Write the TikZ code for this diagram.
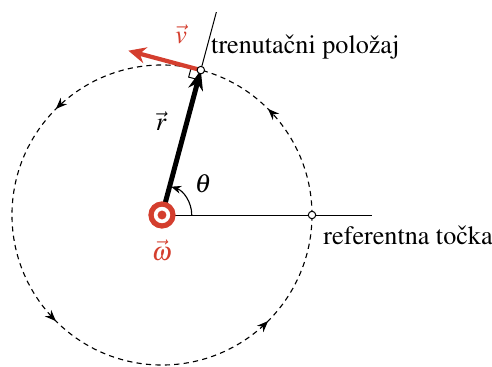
\documentclass[tikz,border=0pt]{standalone}
\usepackage{amsmath,amssymb}
\usepackage[T1]{fontenc}
\usepackage{mathptmx}
\usepackage{tikz}
\usetikzlibrary{calc}
\usetikzlibrary{arrows.meta}
\usetikzlibrary{decorations.markings}
\definecolor{vecred}{RGB}{212,62,46}
\begin{document}
\begin{tikzpicture}[
    font=\fontsize{10.5}{12}\selectfont,
    orbit/.style={dash pattern=on 2.1pt off 1.7pt, line width=0.45pt,
        postaction={decorate, decoration={markings,
            mark=between positions 0.125 and 0.875 step 0.25 with {\arrow{Stealth[length=4.5pt,width=3.6pt]}}}}},
    thinline/.style={line width=0.4pt},
    dot/.style={circle, draw, fill=white, inner sep=0pt, minimum size=3pt, line width=0.4pt},
]
\def\R{2.117}
\useasboundingbox (-2.286,-2.131) rectangle (4.657,3.034);

% --- POINTS ---
\coordinate (O) at (0,0);
\coordinate (P) at (75:\R);
\coordinate (A) at (\R,0);
\coordinate (Pend) at (75:1.4*\R);
\coordinate (Aend) at (1.4*\R,0);
\coordinate (V) at ($(P)+(165:0.5*\R)$);

% --- ORBIT AND LINES ---
\draw[orbit] (O) circle (\R);
\draw[thinline] (O) -- (Pend);
\draw[thinline] (O) -- (Aend);

% right angle mark
\draw[line width=0.4pt] ($(P)+(255:0.14)$) -- ++(165:0.14) -- ($(P)+(165:0.14)$);

% angle theta
\draw[line width=0.45pt, -{Stealth[length=4pt,width=3.2pt]}] (0.42,0) arc[start angle=0, end angle=72, radius=0.42];
\node (theta) at (0.58,0.44) {$\theta$};

% --- VECTORS ---
\draw[line width=2pt, -{Stealth[length=8pt,width=6pt]}] (O) -- (P);
\draw[vecred, line width=1.7pt, -{Stealth[length=7pt,width=6.5pt]}] (P) -- (V);
\node (rlab) at (-0.01,1.33) {$\vec{r}$};
\node[vecred] (vlab) at (0.27,2.55) {$\vec{v}$};

% --- MARKERS ---
\node[dot] (Pdot) at (P) {};
\node[dot] (Adot) at (A) {};
\filldraw[vecred, line width=2.1pt, fill=white] (O) circle (0.155);
\fill[vecred] (O) circle (0.063);
\node[vecred, inner sep=1pt] (wlab) at (0,-0.5) {$\vec{\omega}$};

% --- LABELS ---
\node[anchor=base west, inner sep=0pt] (poloz) at ($(P)+(0.14,0.24)$) {trenuta\v{c}ni polo\v{z}aj};
\node[anchor=base west, inner sep=0pt] (ref) at ($(A)+(0.155,-0.41)$) {referentna to\v{c}ka};
\end{tikzpicture}
\end{document}
